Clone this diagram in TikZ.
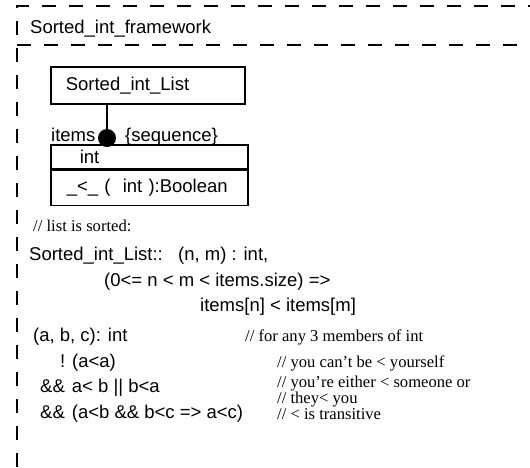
\documentclass[tikz,border=0pt]{standalone}
\usepackage{fontspec}
\newfontfamily\lsans{Liberation Sans}
\newfontfamily\lserif{Liberation Serif}
\begin{document}
\begin{tikzpicture}[x=1pt, y=-1pt,
every node/.style={inner sep=0pt, anchor=base west, font=\lsans\fontsize{18.5}{22}\selectfont},
cmt/.style={font=\lserif\fontsize{16.6}{19}\selectfont},
frame/.style={line width=1.6pt, dash pattern=on 14pt off 13pt},
box/.style={draw, line width=1.6pt, anchor=north west, align=left},
dot/.style={circle, fill, anchor=center, minimum size=18pt}
]
\useasboundingbox (0,0) rectangle (530,467);

\draw[frame] (17,467) -- (17,6) -- (530,6);
\draw[frame] (17,45) -- (530,45);
\node (fw) at (30,33) {Sorted\_int\_framework};

\node[box, text width=164pt, inner xsep=15pt, minimum height=37pt] at (50,66) (lst) {Sorted\_int\_List};
\node[box, text width=139pt, inner xsep=29pt, minimum height=24pt] at (50,144) (cls) {int};
\node[box, text width=165pt, inner xsep=16pt, minimum height=35pt] at (cls.south west) (ops) {\_<\_ (\ \ int ):Boolean};

\node (itm) at (51,141) {items};
\node (seq) at (125,141) {\{sequence\}};
\node[dot] at (107,138) (agg) {};
\draw[line width=1.6pt] (agg) -- (agg |- lst.south);

\node[cmt] at (33,231) (srt) {// list is sorted:};
\node at (29,260) (inv) {Sorted\_int\_List::};
\node at (178,260) (nm) {(n, m) : int,};
\node at (104,286) (rng) {(0<= n < m < items.size) =>};
\node at (200,311) (cmp) {items[n] < items[m]};

\node at (33,341) (abc) {(a, b, c): int};
\node[cmt] at (245,341) (any) {// for any 3 members of int};
\node at (60,367) (irr) {! (a<a)};
\node[cmt] at (277,367) (irrc) {// you can’t be < yourself};
\node at (40,392) (tot) {\&\&\hspace{7pt}a< b || b<a};
\node[cmt] at (277,387) (totc) {// you’re either < someone or};
\node[cmt] at (277,403) (totd) {// they< you};
\node at (40,418) (trn) {\&\&\hspace{7pt}(a<b \&\& b<c => a<c)};
\node[cmt] at (277,419) (trnc) {// < is transitive};

\end{tikzpicture}
\end{document}
